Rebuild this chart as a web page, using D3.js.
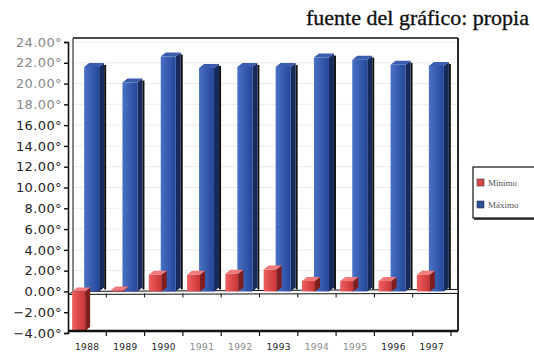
<!DOCTYPE html>
<html>
<head>
<meta charset="utf-8">
<script src="https://cdn.jsdelivr.net/npm/d3@7"></script>
<style>
  html, body { margin: 0; padding: 0; background: #fff; }
  svg { display: block; }
</style>
</head>
<body>
<svg id="chart" width="534" height="355"></svg>
<script>
// Annual temperature extremes, 1988-1997
const years = ["1988", "1989", "1990", "1991", "1992", "1993", "1994", "1995", "1996", "1997"];
const minimo = [-3.8, 0.1, 1.6, 1.6, 1.7, 2.1, 1.0, 1.0, 1.0, 1.6];
const maximo = [21.6, 20.1, 22.6, 21.5, 21.6, 21.6, 22.5, 22.3, 21.8, 21.7];
const yTicks = [-4, -2, 0, 2, 4, 6, 8, 10, 12, 14, 16, 18, 20, 22, 24];
const seriesNames = ["Mínimo", "Máximo"];

const svg = d3.select("#chart");

const y = d3.scaleLinear().domain([-4, 24]).range([333, 42]);
const x = d3.scaleBand().domain(years).range([68, 451]).paddingInner(0).paddingOuter(0);

const frameL = 73, frameR = 458, frameT = 38, frameB = 331;
const depthX = 5, depthY = 4;

// back wall gridlines
svg.append("g")
  .selectAll("line")
  .data(yTicks.filter(t => t > 0))
  .join("line")
  .attr("x1", frameL).attr("x2", frameR)
  .attr("y1", d => y(d)).attr("y2", d => y(d))
  .attr("stroke", "#ececec").attr("stroke-width", 1);

// chart frame
const frame = svg.append("g").attr("fill", "none").attr("stroke", "#111");
frame.append("line").attr("x1", frameL).attr("x2", frameR).attr("y1", frameT).attr("y2", frameT).attr("stroke-width", 1.5);
frame.append("line").attr("x1", frameR).attr("x2", frameR).attr("y1", frameT).attr("y2", frameB).attr("stroke-width", 1.8);
frame.append("line").attr("x1", frameL).attr("x2", frameL).attr("y1", frameT).attr("y2", y(0)).attr("stroke-width", 1);

// floor at zero
const floorY = y(0);
svg.append("path")
  .attr("d", `M${frameL},${floorY} L${frameR},${floorY - 2} L${frameR},${floorY + 2} L${frameL - 4},${floorY + 3} Z`)
  .attr("fill", "#fafafa").attr("stroke", "#111").attr("stroke-width", 1);
svg.append("g")
  .selectAll("line")
  .data(years.slice(1))
  .join("line")
  .attr("x1", d => x(d)).attr("x2", d => x(d))
  .attr("y1", floorY + 2).attr("y2", floorY + 6)
  .attr("stroke", "#111").attr("stroke-width", 1);

// 3D column drawing helper
function column(g, x0, w, v, colors) {
  const yTop = y(Math.max(v, 0));
  const yBot = y(Math.min(v, 0));
  const h = Math.max(yBot - yTop, 0.5);
  // side face
  g.append("path")
    .attr("d", `M${x0 + w},${yTop} L${x0 + w + depthX},${yTop - depthY} L${x0 + w + depthX},${yBot - depthY} L${x0 + w},${yBot} Z`)
    .attr("fill", colors.side);
  // top face
  g.append("path")
    .attr("d", `M${x0},${yTop} L${x0 + depthX},${yTop - depthY} L${x0 + w + depthX},${yTop - depthY} L${x0 + w},${yTop} Z`)
    .attr("fill", colors.top);
  // front face
  g.append("rect")
    .attr("x", x0).attr("y", yTop).attr("width", w).attr("height", h)
    .attr("fill", colors.front);
}

const defs = svg.append("defs");
function grad(id, c1, c2) {
  const gr = defs.append("linearGradient").attr("id", id).attr("x1", "0").attr("x2", "1").attr("y1", "0").attr("y2", "0");
  gr.append("stop").attr("offset", "0").attr("stop-color", c1);
  gr.append("stop").attr("offset", "1").attr("stop-color", c2);
}
grad("gBlue", "#4a72c4", "#24469a");
grad("gRed", "#ee6060", "#c83434");

const blue = { front: "url(#gBlue)", side: "#172a5c", top: "#3a5cae" };
const red = { front: "url(#gRed)", side: "#7e1e1e", top: "#f07a7a" };

const bars = svg.append("g");
years.forEach((yr, i) => {
  const c = x(yr) + x.bandwidth() / 2;
  // thin shadow to the right of each max column
  bars.append("rect")
    .attr("x", c + 12 + depthX).attr("y", y(maximo[i]) - depthY + 2)
    .attr("width", 2).attr("height", y(0) - y(maximo[i]))
    .attr("fill", "#111");
  column(bars.append("g"), c - 3, 15, maximo[i], blue);
  column(bars.append("g"), c - 15, 13, minimo[i], red);
});

// bottom frame with category ticks
svg.append("line").attr("x1", 68).attr("x2", frameR).attr("y1", frameB).attr("y2", frameB)
  .attr("stroke", "#111").attr("stroke-width", 2.5);
svg.append("g")
  .selectAll("line")
  .data(years.slice(1).concat(["end"]))
  .join("line")
  .attr("x1", (d, i) => 68 + x.step() * (i + 1)).attr("x2", (d, i) => 68 + x.step() * (i + 1))
  .attr("y1", frameB).attr("y2", frameB + 5)
  .attr("stroke", "#111").attr("stroke-width", 1.2);

// y axis
const yAxis = d3.axisLeft(y)
  .tickValues(yTicks)
  .tickSize(4)
  .tickPadding(2)
  .tickFormat(d => d3.format(".2f")(d) + "°");
const ya = svg.append("g").attr("transform", "translate(68,0)").call(yAxis);
ya.select(".domain").attr("stroke", "#111").attr("stroke-width", 1.6);
ya.selectAll(".tick line").attr("stroke", "#111").attr("stroke-width", 1.4);
ya.selectAll("text")
  .attr("font-family", "'DejaVu Sans', sans-serif")
  .attr("font-size", 13)
  .attr("fill", (d) => d >= 18 ? "#888" : "#222")
  .attr("letter-spacing", "0.4px");

// x labels
svg.append("g")
  .selectAll("text")
  .data(years)
  .join("text")
  .attr("x", d => x(d) + x.bandwidth() / 2)
  .attr("y", 350)
  .attr("text-anchor", "middle")
  .attr("font-family", "'DejaVu Sans', sans-serif")
  .attr("font-size", 9)
  .attr("letter-spacing", "0.4px")
  .attr("fill", (d, i) => (i >= 3 && i <= 7 && i !== 5) ? "#888" : "#222")
  .text(d => d);

// source note
svg.append("text")
  .attr("x", 529).attr("y", 25)
  .attr("text-anchor", "end")
  .attr("font-family", "'Liberation Serif', 'Times New Roman', serif")
  .attr("font-size", 22)
  .attr("fill", "#111")
  .attr("stroke", "#111")
  .attr("stroke-width", 0.35)
  .text("fuente del gráfico: propia");

// legend
const lg = svg.append("g");
lg.append("rect").attr("x", 473).attr("y", 167).attr("width", 70).attr("height", 51)
  .attr("fill", "#fff").attr("stroke", "#111").attr("stroke-width", 1.2);
lg.append("line").attr("x1", 474).attr("x2", 545).attr("y1", 219).attr("y2", 219).attr("stroke", "#111").attr("stroke-width", 1.5);
const legendColors = ["#d84848", "#2e4f9e"];
seriesNames.forEach((name, i) => {
  const ly = 183 + i * 22;
  lg.append("rect").attr("x", 477).attr("y", ly - 4).attr("width", 7).attr("height", 7)
    .attr("fill", legendColors[i]).attr("stroke", "#333").attr("stroke-width", 0.6);
  lg.append("text").attr("x", 488).attr("y", ly + 3)
    .attr("font-family", "'Liberation Serif', serif")
    .attr("font-size", 9).attr("fill", "#555")
    .text(name);
});
</script>
</body>
</html>
